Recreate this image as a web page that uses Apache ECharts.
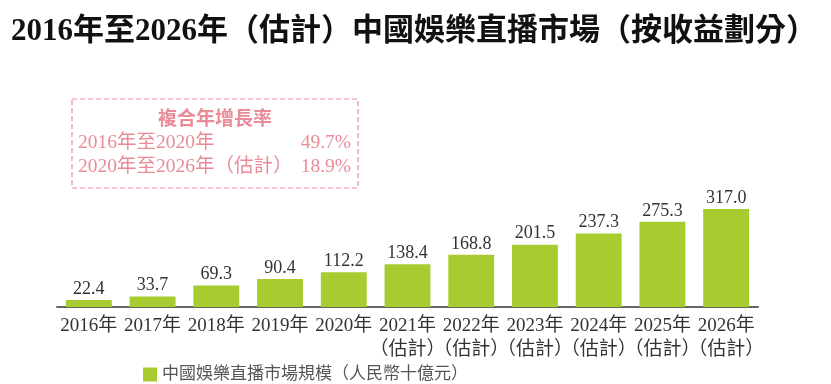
<!DOCTYPE html>
<html><head><meta charset="utf-8">
<script src="https://cdn.jsdelivr.net/npm/echarts@6/dist/echarts.min.js"></script>
<style>html,body{margin:0;padding:0;background:#fff}#c{width:831px;height:384px}</style>
</head><body><div id="c"></div>
<script>
const years = ['2016年','2017年','2018年','2019年','2020年','2021年','2022年','2023年','2024年','2025年','2026年'];
const estimated = [false,false,false,false,false,true,true,true,true,true,true];
const values = [22.4,33.7,69.3,90.4,112.2,138.4,168.8,201.5,237.3,275.3,317.0];
const seriesName = '中國娛樂直播市場規模（人民幣十億元）';
const titleText = '2016年至2026年（估計）中國娛樂直播市場（按收益劃分）';
const cagrTitle = '複合年增長率';
const cagrPeriods = ['2016年至2020年','2020年至2026年（估計）'];
const cagrRates = ['49.7%','18.9%'];

const serif = '"Liberation Serif","Times New Roman","Noto Sans CJK TC",serif';
const pink = '#e98c98';
const green = '#a8cc2f';
const cats = years.map((y,i)=> estimated[i] ? y + '\n（估計）' : y);

const chart = echarts.init(document.getElementById('c'));
chart.setOption({
  animation:false,
  title:{text:titleText,left:6,top:11,textStyle:{fontFamily:serif,fontSize:31,fontWeight:'bold',color:'#111'}},
  grid:{left:57,right:73,top:183.3,bottom:77},
  xAxis:{type:'category',data:cats,
    axisLine:{lineStyle:{color:'#666',width:2}},axisTick:{show:false},
    axisLabel:{interval:0,margin:7,fontFamily:serif,fontSize:19,color:'#333',lineHeight:24}},
  yAxis:{type:'value',min:0,max:400,show:false,splitLine:{show:false}},
  legend:{left:138,top:361,itemWidth:14,itemHeight:14,itemGap:7,icon:'rect',
    textStyle:{fontFamily:serif,fontSize:17,color:'#555'},data:[seriesName]},
  series:[{name:seriesName,type:'bar',data:values,barCategoryGap:'28%',
    itemStyle:{color:green},
    label:{show:true,position:'top',distance:2,fontFamily:serif,fontSize:18,color:'#333',
      formatter:p=>p.value.toFixed(1)}}],
  graphic:[
    {type:'rect',shape:{x:72,y:99,width:286,height:89},style:{fill:'none',stroke:pink,lineWidth:1.2,lineDash:[5,3]}},
    {type:'text',x:215,y:118,style:{text:cagrTitle,fill:pink,font:'bold 19px "Noto Sans CJK TC",sans-serif',textAlign:'center',textVerticalAlign:'middle'}},
    {type:'text',x:78,y:143,style:{text:cagrPeriods[0],fill:pink,font:'19.5px '+serif,textVerticalAlign:'middle'}},
    {type:'text',x:351,y:143,style:{text:cagrRates[0],fill:pink,font:'19.5px '+serif,textAlign:'right',textVerticalAlign:'middle'}},
    {type:'text',x:78,y:167,style:{text:cagrPeriods[1],fill:pink,font:'19.5px '+serif,textVerticalAlign:'middle'}},
    {type:'text',x:351,y:167,style:{text:cagrRates[1],fill:pink,font:'19.5px '+serif,textAlign:'right',textVerticalAlign:'middle'}}
  ]
});
</script></body></html>
